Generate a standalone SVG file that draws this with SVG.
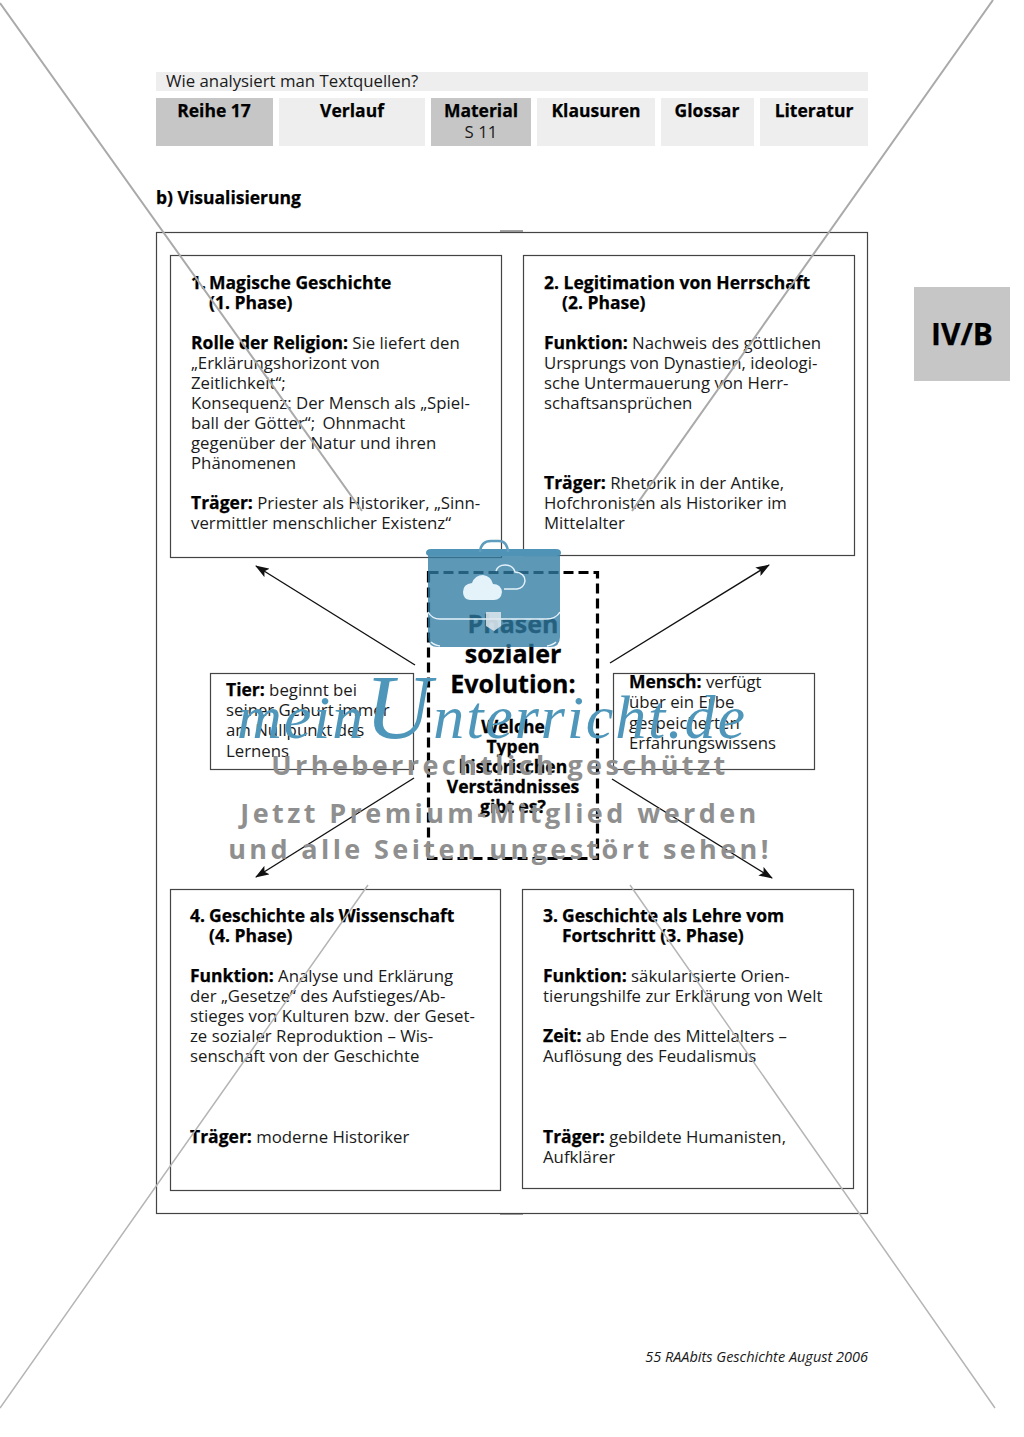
<svg xmlns="http://www.w3.org/2000/svg" width="1024" height="1437" viewBox="0 0 1024 1437">
<style>
text{font-family:"Open Sans","Liberation Sans",sans-serif;fill:#1a1a1a}
.t{font-size:16.800px}
.b{font-weight:700;fill:#000;font-size:17.500px;stroke:#000;stroke-width:.25px}
.box{fill:none;stroke:#444;stroke-width:1.200}
.tab{font-size:17.500px;font-weight:700;text-anchor:middle;fill:#000;stroke:#000;stroke-width:.25px}
.c{stroke:#111;stroke-width:1.400;fill:none;marker-end:url(#a)}
.wm{font-weight:700;fill:#8f8f8f;text-anchor:middle;letter-spacing:3.400px;font-size:27px}
.h{font-weight:700;text-anchor:middle;fill:#000;stroke:#000;stroke-width:.3px}
.h1{font-size:25px}
.h2{font-size:17.500px}
.cl{fill:none;stroke:#e4f2fa;stroke-width:1.500}
</style>
<defs><marker id="a" markerWidth="14" markerHeight="10" refX="13" refY="5" orient="auto" markerUnits="userSpaceOnUse"><path d="M0 0L14 5L0 10L3 5Z" fill="#111"/></marker></defs>
<rect width="1024" height="1437" fill="#fff"/>
<g id="header">
<rect x="156" y="72" width="712" height="19" fill="#eee"/>
<text x="166" y="87" class="t">Wie analysiert man Textquellen?</text>
<rect x="156" y="98" width="117" height="48" fill="#c6c6c6"/>
<rect x="279" y="98" width="146" height="48" fill="#eee"/>
<rect x="431" y="98" width="100" height="48" fill="#c6c6c6"/>
<rect x="537" y="98" width="118" height="48" fill="#eee"/>
<rect x="661" y="98" width="93" height="48" fill="#eee"/>
<rect x="760" y="98" width="108" height="48" fill="#eee"/>
<text x="214" y="117" class="tab">Reihe 17</text><text x="352" y="117" class="tab">Verlauf</text><text x="481" y="117" class="tab">Material</text>
<text x="481" y="138" class="t" text-anchor="middle">S 11</text>
<text x="596" y="117" class="tab">Klausuren</text><text x="707" y="117" class="tab">Glossar</text><text x="814" y="117" class="tab">Literatur</text>
<text x="156" y="204" class="b">b) Visualisierung</text>
<rect x="914" y="287" width="96" height="94" fill="#c6c6c6"/>
<text x="962" y="345" text-anchor="middle" class="b" style="font-size:30px">IV/B</text>
</g>
<g id="frame"><rect x="156.500" y="232.500" width="711" height="981" class="box"/><path d="M500 231h23M500 1214h23" stroke="#444" fill="none"/></g>
<g id="node1"><rect x="170.500" y="255.500" width="331" height="302" class="box"/>
<text class="t"><tspan x="191" y="289" class="b">1.</tspan><tspan x="209" y="289" class="b">Magische Geschichte</tspan><tspan x="209" y="309" class="b">(1. Phase)</tspan><tspan x="191" y="349" class="b">Rolle der Religion:</tspan><tspan> Sie liefert den</tspan><tspan x="191" y="369">„Erklärungshorizont von</tspan><tspan x="191" y="389">Zeitlichkeit“;</tspan><tspan x="191" y="409">Konsequenz: Der Mensch als „Spiel-</tspan><tspan x="191" y="429">ball der Götter“;</tspan><tspan dx="3"> Ohnmacht</tspan><tspan x="191" y="449">gegenüber der Natur und ihren</tspan><tspan x="191" y="469">Phänomenen</tspan><tspan x="191" y="509" class="b">Träger:</tspan><tspan> Priester als Historiker, „Sinn-</tspan><tspan x="191" y="529">vermittler menschlicher Existenz“</tspan></text></g>
<g id="node2"><rect x="523.500" y="255.500" width="331" height="300" class="box"/>
<text class="t"><tspan x="544" y="289" class="b">2. Legitimation von Herrschaft</tspan><tspan x="562" y="309" class="b">(2. Phase)</tspan><tspan x="544" y="349" class="b">Funktion:</tspan><tspan> Nachweis des göttlichen</tspan><tspan x="544" y="369">Ursprungs von Dynastien, ideologi-</tspan><tspan x="544" y="389">sche Untermauerung von Herr-</tspan><tspan x="544" y="409">schaftsansprüchen</tspan><tspan x="544" y="489" class="b">Träger:</tspan><tspan> Rhetorik in der Antike,</tspan><tspan x="544" y="509">Hofchronisten als Historiker im</tspan><tspan x="544" y="529">Mittelalter</tspan></text></g>
<g id="node3"><rect x="522.500" y="889.500" width="331" height="299" class="box"/>
<text class="t"><tspan x="543" y="922" class="b">3.</tspan><tspan x="562" y="922" class="b">Geschichte als Lehre vom</tspan><tspan x="562" y="942" class="b">Fortschritt (3. Phase)</tspan><tspan x="543" y="982" class="b">Funktion:</tspan><tspan> säkularisierte Orien-</tspan><tspan x="543" y="1002">tierungshilfe zur Erklärung von Welt</tspan><tspan x="543" y="1042" class="b">Zeit:</tspan><tspan> ab Ende des Mittelalters –</tspan><tspan x="543" y="1062">Auflösung des Feudalismus</tspan><tspan x="543" y="1143" class="b">Träger:</tspan><tspan> gebildete Humanisten,</tspan><tspan x="543" y="1163">Aufklärer</tspan></text></g>
<g id="node4"><rect x="170.500" y="889.500" width="330" height="301" class="box"/>
<text class="t"><tspan x="190" y="922" class="b">4.</tspan><tspan x="209" y="922" class="b">Geschichte als Wissenschaft</tspan><tspan x="209" y="942" class="b">(4. Phase)</tspan><tspan x="190" y="982" class="b">Funktion:</tspan><tspan> Analyse und Erklärung</tspan><tspan x="190" y="1002">der „Gesetze“ des Aufstieges/Ab-</tspan><tspan x="190" y="1022">stieges von Kulturen bzw. der Geset-</tspan><tspan x="190" y="1042">ze sozialer Reproduktion – Wis-</tspan><tspan x="190" y="1062">senschaft von der Geschichte</tspan><tspan x="190" y="1143" class="b">Träger:</tspan><tspan> moderne Historiker</tspan></text></g>
<g id="node5"><rect x="210.500" y="673.500" width="203" height="96" class="box"/>
<text class="t"><tspan x="226" y="696" class="b">Tier:</tspan><tspan> beginnt bei</tspan><tspan x="226" y="716">seiner Geburt immer</tspan><tspan x="226" y="736">am Nullpunkt des</tspan><tspan x="226" y="757">Lernens</tspan></text></g>
<g id="node6"><rect x="613.500" y="673.500" width="201" height="96" class="box"/>
<text class="t"><tspan x="629" y="688" class="b">Mensch:</tspan><tspan> verfügt</tspan><tspan x="629" y="708">über ein Erbe</tspan><tspan x="629" y="729">gespeicherten</tspan><tspan x="629" y="749">Erfahrungswissens</tspan></text></g>
<g id="connectors">
<path class="c" d="M415 665L256 566"/><path class="c" d="M610 663L769 565"/><path class="c" d="M414 778L256 877"/><path class="c" d="M612 779L772 878"/>
</g>
<g id="node0">
<rect x="428.500" y="572.500" width="169" height="286" fill="none" stroke="#000" stroke-width="3.200" stroke-dasharray="10 5"/>
<text class="h h1" x="513" y="633">Phasen</text><text class="h h1" x="513" y="663">sozialer</text><text class="h h1" x="513" y="693">Evolution:</text>
<text class="h h2" x="513" y="733">Welche</text><text class="h h2" x="513" y="753">Typen</text><text class="h h2" x="513" y="773">historischen</text><text class="h h2" x="513" y="793">Verständnisses</text><text class="h h2" x="513" y="813">gibt es?</text>
</g>
<g id="watermark">
<path d="M0 3L362 511M993 0L632 511" stroke="#aaa" stroke-width="2" fill="none"/>
<path d="M368 885L0 1408M630 885L995 1408" stroke="#b5b5b5" stroke-width="1.500" fill="none"/>
<path d="M428 552h132v85q0 10-10 10H438q-10 0-10-10Z" fill="#2f7ba3" opacity=".78"/>
<path d="M426 553q0-4 5-4h125q5 0 5 4q0 3-5 3H431q-5 0-5-3Z" fill="#4f93b6"/>
<path d="M480 552q1-11 11-11h8q8 0 9 11" fill="none" stroke="#5e9dbd" stroke-width="2.500"/>
<path d="M470 600q-7-1-7-8q0-8 9-9q3-8 11-8q8 1 10 9q8 0 9 8q-1 8-8 8Z" fill="#e4f2fa"/>
<path class="cl" d="M496 571q2-6 9-6q8 0 10 7q10 1 10 9q-1 7-8 8h-13"/>
<path class="cl" d="M428 612q4 7 12 7h106q10 0 14-7M431 642q3 3 9 4M556 642q-3 3-9 4"/>
<path d="M486 612h15v14l-7 5l-8-5Z" fill="#dfe7ee" opacity=".85"/>
<text x="237" y="738" style="font-family:'Liberation Serif',serif;font-style:italic;font-size:62px;fill:#4f97ba" textLength="508" lengthAdjust="spacing">mein<tspan style="font-size:92px">U</tspan>nterricht.de</text>
<text class="wm" x="500" y="775">Urheberrechtlich geschützt</text>
<text class="wm" x="500" y="823">Jetzt Premium-Mitglied werden</text>
<text class="wm" x="500" y="859">und alle Seiten ungestört sehen!</text>
</g>
<text x="868" y="1362" text-anchor="end" style="font-size:14.500px;font-style:italic">55 RAAbits Geschichte August 2006</text>
</svg>
